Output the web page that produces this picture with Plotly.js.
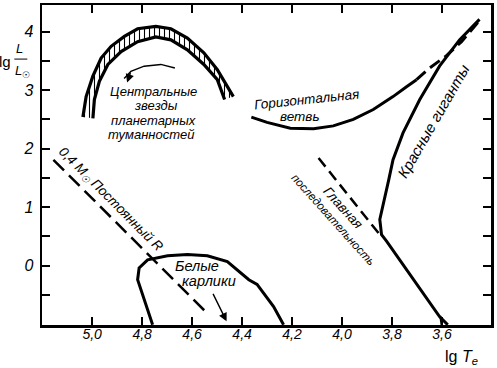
<!DOCTYPE html>
<html><head><meta charset="utf-8">
<script src="https://cdn.plot.ly/plotly-3.0.1.min.js"></script>
<style>html,body{margin:0;padding:0;background:#fff}</style>
</head><body><div id="chart" style="width:497px;height:368px"></div>
<script>
// ---- data (lg Te, lg L/Lsun) ----
var nebOuterX = [5.037, 5.024, 4.997, 4.964, 4.924, 4.871, 4.818, 4.745, 4.685, 4.619, 4.553, 4.499, 4.435];
var nebOuterY = [2.54, 2.89, 3.24, 3.55, 3.75, 3.92, 4.05, 4.09, 4.05, 3.89, 3.64, 3.35, 2.89];
var nebInnerX = [4.997, 4.991, 4.971, 4.937, 4.884, 4.818, 4.745, 4.685, 4.619, 4.553, 4.499, 4.470];
var nebInnerY = [2.52, 2.84, 3.15, 3.44, 3.66, 3.83, 3.91, 3.86, 3.69, 3.44, 3.18, 2.84];
var nebArrowX = [4.669, 4.725, 4.792, 4.845, 4.872];
var nebArrowY = [3.38, 3.44, 3.41, 3.32, 3.20];

var hbSolidX = [4.363, 4.300, 4.207, 4.114, 4.035, 3.955, 3.875, 3.796, 3.742, 3.702];
var hbSolidY = [2.54, 2.45, 2.35, 2.34, 2.39, 2.50, 2.67, 2.89, 3.06, 3.18];
var hbDashX = [3.702, 3.649, 3.582, 3.522, 3.450];
var hbDashY = [3.18, 3.38, 3.59, 3.83, 4.19];

var rgX = [3.450, 3.530, 3.610, 3.689, 3.756, 3.796, 3.813, 3.829, 3.849, 3.842, 3.822, 3.610, 3.577];
var rgY = [4.21, 3.86, 3.41, 2.84, 2.27, 1.81, 1.47, 1.18, 0.79, 0.53, 0.42, -0.87, -1.01];
var forkX = [3.607, 3.602];
var forkY = [-0.86, -1.01];

var msX = [4.094, 3.849];
var msY = [1.84, 0.53];

var constRX = [5.155, 4.538];
var constRY = [1.81, -0.82];

var wdX = [4.758, 4.793, 4.818, 4.812, 4.778, 4.698, 4.619, 4.539, 4.459, 4.373, 4.340, 4.274, 4.234];
var wdY = [-1.01, -0.58, -0.24, -0.04, 0.10, 0.17, 0.19, 0.17, 0.07, -0.24, -0.32, -0.70, -1.01];
var wdArrowTail = [4.519, -0.456];
var wdArrowHead = [4.462, -0.952];

var xTickVals = [5.0, 4.8, 4.6, 4.4, 4.2, 4.0, 3.8, 3.6, 3.4];
var xTickText = ['5,0', '4,8', '4,6', '4,4', '4,2', '4,0', '3,8', '3,6', '3,4'];
var yTickVals = [-0.5, 0, 0.5, 1, 1.5, 2, 2.5, 3, 3.5, 4];
var yTickText = [' ', '0', ' ', '1', ' ', '2', ' ', '3', ' ', '4'];

// ---- drawing ----
var F = '"Liberation Sans", Arimo, sans-serif';
var polyX = nebOuterX.concat(nebInnerX.slice().reverse());
var polyY = nebOuterY.concat(nebInnerY.slice().reverse());

function line(x, y, w, dash) {
  return {x: x, y: y, type: 'scatter', mode: 'lines', hoverinfo: 'skip',
          line: {color: '#000', width: w, dash: dash || 'solid'}};
}

var traces = [
  {x: polyX, y: polyY, type: 'scatter', mode: 'lines', fill: 'toself',
   fillcolor: 'rgba(255,255,255,0)',
   fillpattern: {shape: '|', fgcolor: '#000', bgcolor: 'rgba(255,255,255,0)', size: 5, solidity: 0.22},
   line: {width: 0, color: 'rgba(0,0,0,0)'}, hoverinfo: 'skip'},
  line(nebOuterX, nebOuterY, 3.2),
  line(nebInnerX, nebInnerY, 3.2),
  line(nebArrowX, nebArrowY, 1.4),
  line(hbSolidX, hbSolidY, 3),
  line(hbDashX, hbDashY, 3, '12px,6px'),
  line(rgX, rgY, 3),
  line(forkX, forkY, 2),
  line(msX, msY, 2.5, '11px,6px'),
  line(constRX, constRY, 2.5, '15px,7px'),
  line(wdX, wdY, 3)
];

function lab(t, x, y, size, angle) {
  return {x: x, y: y, xref: 'x', yref: 'y', text: '<i>' + t + '</i>', showarrow: false,
          xanchor: 'center', yanchor: 'middle',
          textangle: angle || 0, font: {family: F, size: size, color: '#000', style: 'italic'}};
}
function plab(t, x, y, size) {
  return {x: x, y: y, xref: 'paper', yref: 'paper', text: t, showarrow: false,
          xanchor: 'center', yanchor: 'middle',
          font: {family: F, size: size, color: '#000'}};
}

var annotations = [
  lab('Центральные', 4.753, 2.986, 13),
  lab('звезды', 4.745, 2.73, 13),
  lab('планетарных', 4.753, 2.474, 13),
  lab('туманностей', 4.761, 2.234, 13),
  lab('Горизонтальная', 4.143, 2.833, 13.5, -6),
  lab('ветвь', 4.167, 2.542, 13.5),
  lab('Красные гиганты', 3.637, 2.473, 15, -60),
  lab('Главная', 3.996, 1.003, 13.5, 48),
  lab('последовательность', 4.038, 0.790, 11.5, 48),
  lab('0,4 M<sub>☉</sub> Постоянный R', 4.928, 1.13, 13.5, 45),
  lab('Белые', 4.579, -0.005, 14.5),
  lab('карлики', 4.534, -0.262, 14.5),
  {x: nebArrowX[4] - 0.012, y: nebArrowY[4] - 0.07, ax: nebArrowX[3], ay: nebArrowY[3],
   xref: 'x', yref: 'y', axref: 'x', ayref: 'y', text: '', showarrow: true,
   arrowhead: 2, arrowsize: 1.2, arrowwidth: 1.4, arrowcolor: '#000'},
  {x: wdArrowHead[0], y: wdArrowHead[1], ax: wdArrowTail[0], ay: wdArrowTail[1],
   xref: 'x', yref: 'y', axref: 'x', ayref: 'y', text: '', showarrow: true,
   arrowhead: 2, arrowsize: 1.2, arrowwidth: 1.4, arrowcolor: '#000'},
  plab('lg <i>T</i><sub><i>e</i></sub>', 0.934, -0.1, 16),
  plab('lg', -0.082, 0.825, 15),
  plab('<i>L</i>', -0.0505, 0.864, 13),
  plab('<i>L</i><sub>☉</sub>', -0.044, 0.792, 13)
];

var layout = {
  width: 497, height: 368,
  margin: {l: 42, r: 5.5, t: 5, b: 43, pad: 0, autoexpand: false},
  paper_bgcolor: '#fff', plot_bgcolor: '#fff',
  showlegend: false,
  font: {family: F, size: 14, color: '#000'},
  xaxis: {range: [5.2006, 3.404], showgrid: false, zeroline: false,
          showline: true, linecolor: '#000', linewidth: 2.5, mirror: 'ticks',
          ticks: 'inside', ticklen: 8, tickwidth: 2, tickcolor: '#000',
          tickvals: xTickVals, ticktext: xTickText.map(function (t) { return '<i>' + t + '</i>'; }),
          ticklabelstandoff: -5,
          tickfont: {family: F, size: 14, color: '#000', style: 'italic'}},
  yaxis: {range: [-1.014, 4.456], showgrid: false, zeroline: false,
          showline: true, linecolor: '#000', linewidth: 2.5, mirror: 'ticks',
          ticks: 'inside', ticklen: 8, tickwidth: 2, tickcolor: '#000',
          tickvals: yTickVals, ticktext: yTickText.map(function (t) { return '<i>' + t + '</i>'; }),
          ticklabelstandoff: 3,
          tickfont: {family: F, size: 16, color: '#000', style: 'italic'}},
  shapes: [{type: 'line', xref: 'paper', yref: 'paper', x0: -0.0616, x1: -0.0327, y0: 0.831, y1: 0.831,
            line: {color: '#000', width: 1}}],
  annotations: annotations
};

Plotly.newPlot('chart', traces, layout, {displayModeBar: false, staticPlot: true});
</script></body></html>
